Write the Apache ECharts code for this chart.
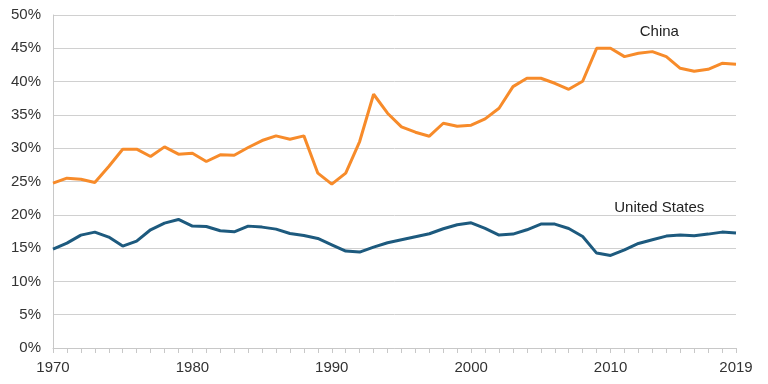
<!DOCTYPE html>
<html><head><meta charset="utf-8">
<script src="https://cdn.jsdelivr.net/npm/echarts@6/dist/echarts.min.js"></script>
<style>html,body{margin:0;padding:0;background:#fff}#c{width:768px;height:384px}</style>
</head><body><div id="c"></div>
<script>
var years = [];
for (var y = 1970; y <= 2019; y++) years.push(String(y));
var xLabels = ['1970','1980','1990','2000','2010','2019'];
var yTicks = [0,5,10,15,20,25,30,35,40,45,50];
var china = [24.75,25.5,25.35,24.85,27.25,29.85,29.85,28.75,30.2,29.1,
  29.25,28.0,29.0,28.95,30.1,31.15,31.85,31.35,31.85,26.25,
  24.6,26.25,31.0,38.1,35.25,33.2,32.4,31.8,33.75,33.3,
  33.45,34.4,36.0,39.25,40.5,40.5,39.75,38.85,40.05,45.0,
  45.0,43.75,44.25,44.5,43.75,42.0,41.55,41.85,42.75,42.6];
var us = [14.85,15.75,16.95,17.4,16.65,15.3,16.05,17.75,18.75,19.3,
  18.3,18.25,17.6,17.45,18.3,18.15,17.85,17.2,16.9,16.45,
  15.5,14.55,14.4,15.15,15.8,16.25,16.7,17.15,17.9,18.5,
  18.8,17.95,16.95,17.1,17.75,18.6,18.6,17.95,16.75,14.25,
  13.9,14.75,15.7,16.25,16.8,16.95,16.85,17.1,17.4,17.25];
var seriesNames = ['China','United States'];

var chart = echarts.init(document.getElementById('c'));
var font = 'Liberation Sans, Arial, sans-serif';
function tag(text, coord) {
  return {
    symbol: 'rect', symbolSize: 1, silent: true,
    itemStyle: {color: 'rgba(0,0,0,0)'},
    label: {show: true, position: 'inside', offset: [-7, 0], formatter: text, color: '#222', fontFamily: font, fontSize: 15},
    data: [{coord: coord, value: 0}]
  };
}
chart.setOption({
  animation: false,
  grid: {left: 53, right: 32, top: 15, bottom: 36},
  xAxis: {
    type: 'category', data: years, boundaryGap: false,
    axisLine: {lineStyle: {color: '#c8c8c8', width: 1}},
    axisTick: {show: true, interval: 0, length: 5, lineStyle: {color: '#c8c8c8'}},
    axisLabel: {
      interval: function (i, v) { return xLabels.indexOf(v) >= 0; },
      color: '#333', fontFamily: font, fontSize: 15, margin: 12
    },
    splitLine: {show: false}
  },
  yAxis: {
    type: 'value', min: 0, max: 50, interval: 5,
    axisLine: {show: true, lineStyle: {color: '#c8c8c8'}},
    axisTick: {show: false},
    axisLabel: {formatter: '{value}%', color: '#333', fontFamily: font, fontSize: 15, margin: 12},
    splitLine: {lineStyle: {color: '#d0d0d0', width: 1}}
  },
  series: [
    {name: seriesNames[0], type: 'line', data: china, symbol: 'none',
     lineStyle: {color: '#F78B2A', width: 3}, itemStyle: {color: '#F78B2A'},
     markPoint: tag('China', ['2014', 47.4])
    },
    {name: seriesNames[1], type: 'line', data: us, symbol: 'none',
     lineStyle: {color: '#1D5A7E', width: 3}, itemStyle: {color: '#1D5A7E'},
     markPoint: tag('United States', ['2014', 21.0])
    }
  ]
});
</script></body></html>
